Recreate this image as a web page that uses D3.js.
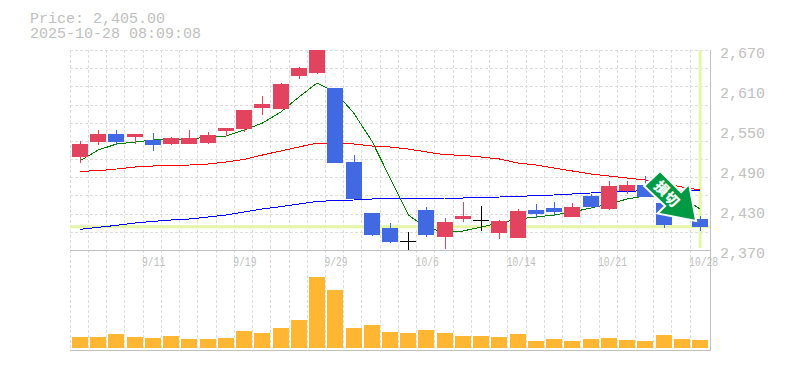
<!DOCTYPE html>
<html>
<head>
<meta charset="utf-8">
<script src="https://d3js.org/d3.v7.min.js"></script>
<style>
html, body { margin: 0; padding: 0; background: #fff; }
svg { display: block; }
text { font-family: "Liberation Mono", monospace; fill: #c0c0c0; }
.grid { stroke: #ddd; stroke-width: 1; stroke-dasharray: 3 2; shape-rendering: crispEdges; }
.frame { stroke: #c0c0c0; stroke-width: 1; shape-rendering: crispEdges; }
.maLine { fill: none; stroke-width: 1; shape-rendering: crispEdges; }
</style>
</head>
<body>
<div id="container"></div>
<script>
//trading days, one per candle
var dates = ["9/5","9/8","9/9","9/10","9/11","9/12","9/16","9/17","9/18","9/19","9/22","9/24","9/25","9/26","9/29","9/30","10/1","10/2","10/3","10/6","10/7","10/8","10/9","10/10","10/14","10/15","10/16","10/17","10/20","10/21","10/22","10/23","10/24","10/27","10/28"];
var dateTicks = ["9/11","9/19","9/29","10/6","10/14","10/21","10/28"];
var priceTicks = [2370,2430,2490,2550,2610,2670];

//candle values
var opens = [2510,2532,2544,2540,2535,2529,2529,2531,2549,2552,2583,2582,2631,2636,2613,2502,2426,2403,2384,2430,2390,2417,2415,2396,2388,2430,2433,2420,2451,2432,2459,2468,2441,2452,2417];
var highs = [2534,2550,2550,2544,2546,2540,2550,2547,2553,2580,2601,2621,2645,2670,2613,2513,2426,2411,2397,2435,2418,2442,2436,2415,2432,2439,2442,2441,2454,2474,2474,2481,2441,2455,2421];
var lows = [2501,2528,2528,2529,2519,2528,2529,2529,2541,2547,2573,2582,2627,2634,2501,2447,2391,2381,2370,2390,2372,2412,2399,2387,2388,2418,2421,2420,2433,2430,2454,2449,2403,2418,2399];
var closes = [2529,2544,2532,2544,2528,2538,2538,2543,2553,2580,2589,2619,2643,2670,2501,2447,2393,2382,2384,2393,2412,2421,2415,2414,2429,2424,2427,2435,2435,2466,2468,2450,2408,2422,2405];

//moving averages
var maShort = [2504,2520,2529,2532,2535,2536.5,2536.5,2539.5,2541,2550,2560.5,2577,2599.5,2620.5,2607,2575.5,2533.5,2478,2422.5,2403,2397,2398.5,2404.5,2410.5,2416.5,2419.5,2422.5,2427,2433,2439,2446.5,2451,2451,2449.5,2431.5];
var maMiddle = [2488,2489,2491.5,2494.5,2496,2497,2497.5,2499,2502,2506,2512.5,2518.5,2524.5,2530.5,2530.5,2529,2526,2524.5,2521.5,2517,2513,2512,2509.5,2506.5,2500.5,2497.5,2493,2488.5,2484,2481,2478,2475,2470.5,2464.5,2460];
var maLong = [2401,2404,2407,2410.5,2413,2415,2416.5,2419.5,2422.5,2427,2431.5,2435,2439,2443,2444,2445,2446.5,2447,2447,2447,2448,2448,2449,2449.5,2450,2452,2452.5,2454,2455.5,2457,2458,2459,2460,2460,2460];

var volumes = [110,110,140,110,100,120,90,90,100,170,150,200,280,710,580,200,230,160,150,180,150,120,120,110,140,70,90,70,90,100,80,70,130,90,80];

var lastPrice = 2405;
var headerLines = ["Price: 2,405.00","2025-10-28 08:09:08"];
var signalLabel = ["損","切"];

//chart frame dimensions
var width = 785,
    height = 370,
    plotLeft = 70,
    plotRight = 710,
    plotTop = 50,
    priceBottom = 250,
    volumeBottom = 350,
    gridRows = 11,
    candleWidth = 16;

var svg = d3.select("#container")
    .append("svg")
    .attr("width", width)
    .attr("height", height);

//scales
var x = d3.scaleBand()
    .domain(dates)
    .range([71, 71 + 18.235 * dates.length]);

var y = d3.scaleLinear()
    .domain([2370, 2670])
    .range([priceBottom, plotTop]);

var yVolume = d3.scaleLinear()
    .domain([0, d3.max(volumes)])
    .range([348, 277]);

//background grid
svg.selectAll(".gridV")
    .data(dates)
    .enter()
    .append("line")
    .attr("class", "grid gridV")
    .attr("x1", function(d){ return Math.floor(x(d) - 0.8) + 0.5; })
    .attr("x2", function(d){ return Math.floor(x(d) - 0.8) + 0.5; })
    .attr("y1", plotTop)
    .attr("y2", volumeBottom);

svg.selectAll(".gridH")
    .data(d3.range(gridRows))
    .enter()
    .append("line")
    .attr("class", "grid gridH")
    .attr("x1", plotLeft)
    .attr("x2", plotRight)
    .attr("y1", function(d){ return Math.round(plotTop + d * (priceBottom - plotTop) / gridRows) + 0.5; })
    .attr("y2", function(d){ return Math.round(plotTop + d * (priceBottom - plotTop) / gridRows) + 0.5; });

//solid frame lines
svg.append("line").attr("class", "frame").attr("x1", plotLeft).attr("x2", plotRight + 1).attr("y1", priceBottom + 0.5).attr("y2", priceBottom + 0.5);
svg.append("line").attr("class", "frame").attr("x1", plotLeft).attr("x2", plotRight + 1).attr("y1", volumeBottom + 0.5).attr("y2", volumeBottom + 0.5);
svg.append("line").attr("class", "frame").attr("x1", plotRight + 0.5).attr("x2", plotRight + 0.5).attr("y1", plotTop).attr("y2", volumeBottom);

//crosshair at the latest price
var lastDate = dates[dates.length - 1];
svg.append("line")
    .attr("x1", plotLeft).attr("x2", plotRight)
    .attr("y1", y(lastPrice)).attr("y2", y(lastPrice))
    .attr("stroke", "#e6f5a8").attr("stroke-width", 3);
svg.append("line")
    .attr("x1", x(lastDate) + x.bandwidth() / 2).attr("x2", x(lastDate) + x.bandwidth() / 2)
    .attr("y1", plotTop).attr("y2", priceBottom - 2)
    .attr("stroke", "#e6f5a8").attr("stroke-width", 3);

//moving average lines
var maLine = d3.line()
    .x(function(d, i){ return x(dates[i]) + x.bandwidth() / 2; })
    .y(function(d){ return y(d); });

[[maLong, "#0000ff"], [maMiddle, "#ff0000"], [maShort, "#008000"]].forEach(function(ma){
    svg.append("path")
        .datum(ma[0])
        .attr("class", "maLine")
        .attr("stroke", ma[1])
        .attr("d", maLine);
});

//candles
function candleColor(i){
    if (opens[i] === closes[i]) return "#000";
    return closes[i] > opens[i] ? "#e2435f" : "#4169e1";
}

var candles = svg.selectAll(".candle")
    .data(dates)
    .enter()
    .append("g")
    .attr("class", "candle")
    .attr("shape-rendering", "crispEdges");

candles.append("rect")
    .attr("x", function(d){ return Math.round(x(d) + 1) + candleWidth / 2; })
    .attr("width", 1)
    .attr("y", function(d, i){ return y(highs[i]); })
    .attr("height", function(d, i){ return y(lows[i]) - y(highs[i]); })
    .style("fill", function(d, i){ return candleColor(i); });

candles.append("rect")
    .attr("x", function(d){ return Math.round(x(d) + 1); })
    .attr("width", candleWidth)
    .attr("y", function(d, i){ return y(Math.max(opens[i], closes[i])); })
    .attr("height", function(d, i){ return Math.max(1, Math.abs(y(opens[i]) - y(closes[i]))); })
    .style("fill", function(d, i){ return candleColor(i); });

//volume bars
svg.selectAll(".volume")
    .data(volumes)
    .enter()
    .append("rect")
    .attr("class", "volume")
    .attr("shape-rendering", "crispEdges")
    .attr("x", function(d, i){ return Math.round(x(dates[i]) + 1); })
    .attr("width", candleWidth)
    .attr("y", function(d){ return yVolume(d); })
    .attr("height", function(d){ return yVolume(0) - yVolume(d); })
    .style("fill", "#ffb733");

//axes, labels only
var yAxis = d3.axisRight(y)
    .tickValues(priceTicks)
    .tickFormat(d3.format(","))
    .tickSize(0)
    .tickPadding(10);

svg.append("g")
    .attr("class", "axis")
    .attr("transform", "translate(" + plotRight + ",0)")
    .call(yAxis)
    .call(function(g){ g.select(".domain").remove(); })
    .selectAll("text")
    .attr("dy", "0.48em")
    .style("font-size", "15px")
    .style("font-family", "Liberation Mono")
    .style("fill", "#c0c0c0");

var xAxis = d3.axisBottom(x)
    .tickValues(dateTicks)
    .tickSize(0);

svg.append("g")
    .attr("class", "axis")
    .attr("transform", "translate(0," + priceBottom + ")")
    .call(xAxis)
    .call(function(g){ g.select(".domain").remove(); })
    .selectAll("text")
    .attr("text-anchor", "start")
    .attr("x", -11)
    .attr("y", 16)
    .attr("dy", 0)
    .attr("textLength", function(d){ return d.length * 5.8; })
    .attr("lengthAdjust", "spacingAndGlyphs")
    .style("font-size", "12px")
    .style("font-family", "Liberation Mono")
    .style("fill", "#c0c0c0");

//price and time header
svg.selectAll(".header")
    .data(headerLines)
    .enter()
    .append("text")
    .attr("class", "header")
    .attr("x", 30)
    .attr("y", function(d, i){ return 23 + i * 15; })
    .style("font-size", "15px")
    .text(function(d){ return d; });

//signal arrow, placed from the last candle
var arrowX = x(lastDate) + x.bandwidth() / 2,
    arrowY = y(lastPrice);

var arrow = svg.append("g")
    .attr("transform", "translate(" + arrowX + "," + arrowY + ")");

arrow.append("path")
    .attr("d", "M-40,-55.7 L-19,-34.7 L-11,-42.7 L-4,-5.7 L-42.6,-13.2 L-35,-20.7 L-56,-40.7 Z")
    .attr("fill", "#009a44")
    .attr("stroke", "#fff")
    .attr("stroke-width", 2)
    .attr("stroke-linejoin", "miter");

arrow.selectAll(".signal")
    .data(signalLabel)
    .enter()
    .append("text")
    .attr("class", "signal")
    .attr("transform", function(d, i){
        return "translate(" + (-38.4 + i * 10) + "," + (-38.4 + i * 11) + ") rotate(45)";
    })
    .attr("text-anchor", "middle")
    .attr("dy", "0.36em")
    .style("font-family", "Noto Sans CJK JP")
    .style("font-weight", "bold")
    .style("font-size", "14px")
    .style("fill", "#fff")
    .style("stroke", "#fff")
    .style("stroke-width", 0.3)
    .text(function(d){ return d; });
</script>
</body>
</html>
